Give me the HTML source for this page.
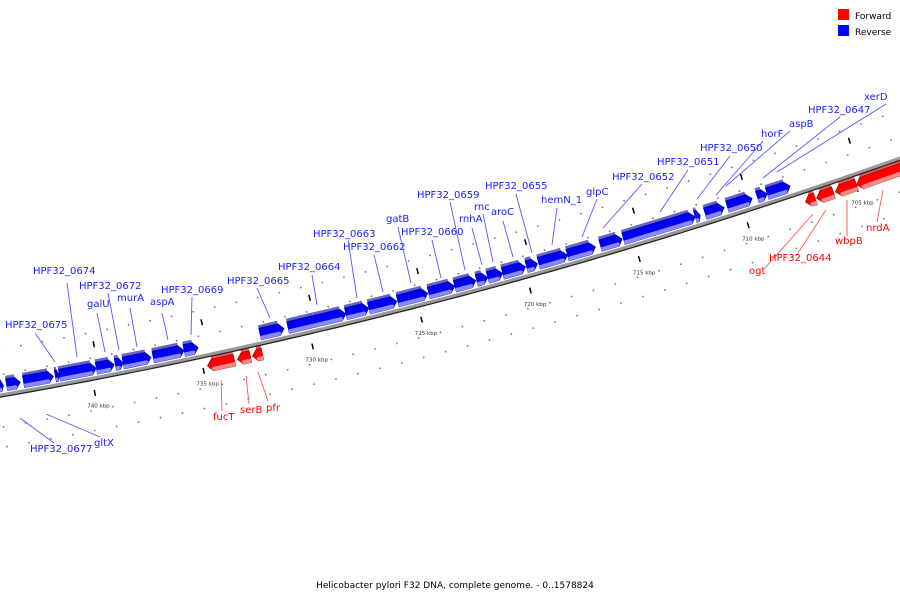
<!DOCTYPE html>
<html><head><meta charset="utf-8"><style>
body{margin:0;background:#fff}
svg{display:block;font-family:"DejaVu Sans","Liberation Sans",sans-serif}
</style></head><body>
<svg id="c" width="900" height="600" viewBox="0 0 900 600">
<g id="ticks"></g>
<path id="bb2" fill="none" stroke="#222" stroke-width="1.5"/>
<path id="bb" fill="none" stroke="#999" stroke-width="3"/>
<g id="genes"></g>
<g id="labels"></g>
<g>
<rect x="838" y="9" width="11" height="11" fill="#ff0000"/>
<text x="855" y="19" font-size="9" fill="#000">Forward</text>
<rect x="838" y="25" width="11" height="11" fill="#0000ff"/>
<text x="855" y="35" font-size="9" fill="#000">Reverse</text>
</g>
<text x="455" y="588" font-size="9" text-anchor="middle" fill="#000">Helicobacter pylori F32 DNA, complete genome. - 0..1578824</text>
</svg>
<script>
const blueStarts=[744.05,743.68,742.90,741.43,741.24,739.54,738.66,738.30,736.92,735.49,731.99,730.70,728.03,726.97,725.64,724.21,723.01,722.00,721.49,720.80,719.70,719.14,717.81,716.29,715.23,711.92,711.46,710.44,709.06,708.60];
const blueEnds=[743.82,743.04,741.52,741.24,739.54,738.71,738.30,737.01,735.49,734.84,730.88,728.03,726.97,725.68,724.25,723.01,722.04,721.49,720.80,719.74,719.19,717.81,716.52,715.28,711.92,711.69,710.58,709.29,708.60,707.54];
const redStarts=[734.61,733.23,732.54,707.13,706.62,705.75,704.78];
const redEnds=[733.37,732.63,732.08,706.67,705.84,704.78,701.0];
const tickKbp=[745,740,735,730,725,720,715,710,705,700];
const tickLabels=["745 kbp","740 kbp","735 kbp","730 kbp","725 kbp","720 kbp","715 kbp","710 kbp","705 kbp","700 kbp"];
const NS="http://www.w3.org/2000/svg";
function X(k){return 88+(740-k)*21.72;}
function Y(x){return 395-0.1733*x-0.0001*x*x;}
function D(x){return -0.1733-0.0002*x;}
function P(x,d){const s=D(x),L=Math.hypot(1,s);return [x+s/L*d,Y(x)-d/L];}
function mk(tag,attrs,parent){const e=document.createElementNS(NS,tag);for(const k in attrs)e.setAttribute(k,attrs[k]);parent.appendChild(e);return e;}
function pts(a){return a.map(p=>p[0].toFixed(1)+","+p[1].toFixed(1)).join(" ");}
// backbone
let dpath="";for(let x=-10;x<=910;x+=10){dpath+=(x==-10?"M":"L")+x+","+Y(x).toFixed(1);}
document.getElementById("bb").setAttribute("d",dpath);
let dpath2="";for(let x=-10;x<=910;x+=10){const p=P(x,-2);dpath2+=(x==-10?"M":"L")+p[0].toFixed(1)+","+p[1].toFixed(1);}
document.getElementById("bb2").setAttribute("d",dpath2);
// ticks
const tg=document.getElementById("ticks");
for(let k=746;k>=699;k--){const x=X(k);
 [[-32,1],[-52,1],[20,1],[45,1]].forEach(o=>{const p=P(x+(o[0]>0?6:-3),o[0]);const c=mk("circle",{cx:p[0],cy:p[1],r:0.9,fill:"#777"},tg);
 
 });}
tickKbp.forEach((k,i)=>{const x=X(k);
 const a=P(x+4,-12),b=P(x+4,-18);const l=mk("line",{x1:a[0],y1:a[1],x2:b[0],y2:b[1],stroke:"#000","stroke-width":1.5},tg);
 
 
 const c1=P(x+12,30),c2=P(x+12,36);const l2=mk("line",{x1:c1[0],y1:c1[1],x2:c2[0],y2:c2[1],stroke:"#000","stroke-width":1.5},tg);
 
 
 const t=P(x-6,-28);const tx=mk("text",{x:t[0],y:t[1],"font-size":5.5,fill:"#333"},tg);tx.textContent=tickLabels[i];
 
 });
// genes
const gg=document.getElementById("genes");
function gene(x1,x2,fwd){
 const len=x2-x1,h=Math.min(5,len*0.5);
 let d0,d1,cMain,cLight,cDark;
 if(!fwd){d0=3;d1=15;cMain="#0000f0";cLight="#8a8aff";cDark="#00009a";}
 else{d0=-5;d1=-17;cMain="#ff0000";cLight="#ff8a8a";cDark="#a00000";}
 let poly,light;
 if(!fwd){
  poly=[P(x1,d0),P(x1,d1),P(x2-h,d1),P(x2,(d0+d1)/2),P(x2-h,d0)];
  light=[P(x1,d0),P(x1,d0+4),P(x2-h,d0+4),P(x2-h*0.7,d0+2.8),P(x2-h,d0)];
 }else{
  poly=[P(x2,d0),P(x2,d1),P(x1+h,d1),P(x1,(d0+d1)/2),P(x1+h,d0)];
  light=[P(x2,d1),P(x2,d1+4),P(x1+h,d1+4),P(x1+h*0.7,d1+2.8),P(x1+h,d1)];
 }
 const g=mk("g",{},gg);
 
 
 mk("polygon",{points:pts(poly),fill:cMain,stroke:cDark,"stroke-width":0.6},g);
 mk("polygon",{points:pts(light),fill:cLight},g);
 const top=fwd?[P(x1+h,d0),P(x2,d0),P(x2,d0+3),P(x1+h,d0+3)]:[P(x1,d1),P(x2-h,d1),P(x2-h,d1+3),P(x1,d1+3)];
 mk("polygon",{points:pts(top),fill:cDark,opacity:0.6},g);
}
blueStarts.forEach((s,i)=>gene(X(s),X(blueEnds[i]),false));
redStarts.forEach((s,i)=>gene(X(s),X(redEnds[i]),true));
// labels
const lg=document.getElementById("labels");
const labs=[
["HPF32_0674",33,274,67,283,77,357,0],["HPF32_0675",5,328,35,333,55,362,0],["HPF32_0672",79,289,108,293,119,350,0],
["galU",87,307,97,313,105,352,0],["murA",117,301,130,308,137,347,0],["aspA",150,305,162,313,168,340,0],
["HPF32_0669",161,293,192,297,191,335,0],["HPF32_0665",227,284,257,288,270,318,0],["HPF32_0664",278,270,312,275,317,305,0],
["HPF32_0663",313,237,348,240,357,298,0],["HPF32_0662",343,250,374,255,383,292,0],["gatB",386,222,398,227,411,283,0],
["HPF32_0660",401,235,432,240,441,278,0],["HPF32_0659",417,198,450,202,465,270,0],["rnhA",459,222,472,228,482,265,0],
["rnc",474,210,483,214,493,262,0],["aroC",491,215,503,221,513,257,0],["HPF32_0655",485,189,516,194,532,253,0],
["hemN_1",541,203,557,208,552,245,0],["glpC",586,195,597,199,582,237,0],["HPF32_0652",612,180,642,184,603,228,0],
["HPF32_0651",657,165,688,170,660,212,0],["HPF32_0650",700,151,730,156,697,199,0],["horF",761,137,763,141,716,195,0],
["aspB",789,127,790,131,726,186,0],["HPF32_0647",808,113,840,117,763,178,0],["xerD",864,100,886,104,777,172,0],
["HPF32_0677",30,452,54,443,20,418,0],["gltX",94,446,100,437,46,414,0],
["fucT",213,420,222,411,221,380,1],["serB",240,413,249,404,246,376,1],["pfr",266,411,268,401,258,372,1],
["ogt",749,274,765,268,813,214,1],["HPF32_0644",769,261,796,256,826,210,1],["wbpB",835,244,847,236,847,200,1],["nrdA",866,231,877,222,883,190,1]];
labs.forEach(l=>{const col=l[7]?"#ff0000":"#1a1aff",lc=l[7]?"#ff5555":"#5555ff";
 const ln=mk("line",{x1:l[3],y1:l[4],x2:l[5],y2:l[6],stroke:lc,"stroke-width":0.9},lg);
 
 
 const t=mk("text",{x:l[1],y:l[2],"font-size":10,fill:col},lg);t.textContent=l[0];
 
 });
</script>
</body></html>
